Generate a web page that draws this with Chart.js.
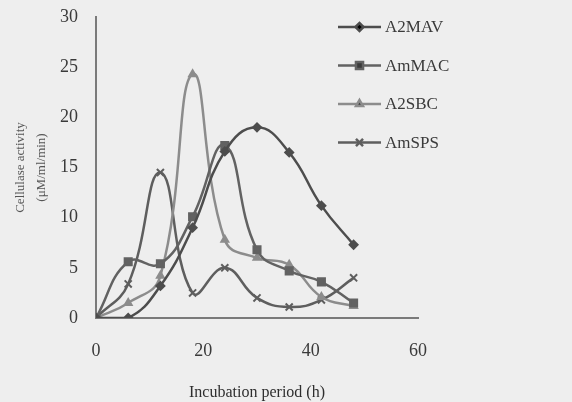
<!DOCTYPE html>
<html>
<head>
<meta charset="utf-8">
<script src="https://cdn.jsdelivr.net/npm/chart.js@4/dist/chart.umd.min.js"></script>
<style>
  html, body { margin: 0; padding: 0; background: #eeeeee; }
  #wrap { width: 572px; height: 402px; }
</style>
</head>
<body>
<div id="wrap"><canvas id="chart" width="572" height="402"></canvas></div>
<script>
// sampling times (h)
const hours = [0, 6, 12, 18, 24, 30, 36, 42, 48];

// activity values
const a2mav = [0, 0, 3.2, 9, 16.6, 19, 16.5, 11.2, 7.3];
const ammac = [0, 5.6, 5.4, 10.1, 17.2, 6.8, 4.7, 3.6, 1.5];
const a2sbc = [0, 1.5, 4.2, 24.3, 7.8, 6.0, 5.3, 2.1, 1.2];
const amsps = [0, 3.4, 14.5, 2.5, 5.0, 2.0, 1.1, 1.8, 4.0];

const xTicks = [0, 20, 40, 60];
const yTicks = [0, 5, 10, 15, 20, 25, 30];

const seriesNames = ['A2MAV', 'AmMAC', 'A2SBC', 'AmSPS'];
const seriesData = [a2mav, ammac, a2sbc, amsps];
const seriesColors = ['#4d4d4d', '#626262', '#8c8c8c', '#5e5e5e'];
const seriesMarkers = ['rectRot', 'rect', 'triangle', 'crossRot'];
const markerSizes = [4, 5, 4, 5];

const serif = "'Liberation Serif', 'DejaVu Serif', serif";

// legend drawn in the upper right, like the scanned figure
const sideLegend = {
  id: 'sideLegend',
  afterDraw(chart) {
    const ctx = chart.ctx;
    ctx.save();
    chart.data.datasets.forEach((ds, i) => {
      const y = 27 + i * 38.5;
      const x0 = 338, x1 = 381;
      ctx.strokeStyle = ds.borderColor;
      ctx.lineWidth = 2.5;
      ctx.beginPath();
      ctx.moveTo(x0, y);
      ctx.lineTo(x1, y);
      ctx.stroke();
      Chart.helpers.drawPoint(ctx, {
        pointStyle: ds.pointStyle,
        radius: ds.pointRadius,
        borderWidth: 2
      }, (x0 + x1) / 2, y);
      ctx.fillStyle = '#3a3a3a';
      ctx.font = '17px ' + serif;
      ctx.textBaseline = 'middle';
      ctx.textAlign = 'left';
      ctx.fillText(ds.label, 385, y + 1);
    });
    ctx.restore();
  }
};

new Chart(document.getElementById('chart'), {
  type: 'line',
  data: {
    datasets: seriesNames.map((name, i) => ({
      label: name,
      data: hours.map((h, j) => ({ x: h, y: seriesData[i][j] })),
      borderColor: seriesColors[i],
      backgroundColor: seriesColors[i],
      pointBorderColor: seriesColors[i],
      pointBackgroundColor: seriesColors[i],
      pointStyle: seriesMarkers[i],
      pointRadius: markerSizes[i],
      pointBorderWidth: 2,
      borderWidth: 2.5,
      tension: 0.45,
      fill: false
    }))
  },
  options: {
    responsive: false,
    animation: false,
    layout: { padding: { left: 0, right: 154, top: 17, bottom: 0 } },
    plugins: {
      legend: { display: false },
      tooltip: { enabled: false }
    },
    scales: {
      x: {
        type: 'linear',
        min: 0,
        max: 60,
        afterBuildTicks: s => { s.ticks = xTicks.map(v => ({ value: v })); },
        grid: { display: false, drawTicks: false },
        border: { display: true, color: '#7a7a7a', width: 2 },
        ticks: { color: '#3a3a3a', font: { family: serif, size: 18 }, padding: 22, maxRotation: 0 },
        title: {
          display: true,
          text: 'Incubation period (h)',
          color: '#2e2e2e',
          font: { family: serif, size: 16 },
          padding: { top: 14, bottom: 0 }
        },
        afterFit: s => { s.height = 84; }
      },
      y: {
        min: 0,
        max: 30,
        afterBuildTicks: s => { s.ticks = yTicks.map(v => ({ value: v })); },
        grid: { display: false, drawTicks: false },
        border: { display: true, color: '#7a7a7a', width: 2 },
        ticks: { color: '#3a3a3a', font: { family: serif, size: 18 }, padding: 18 },
        title: {
          display: true,
          text: ['Cellulase activity', '(μM/ml/min)'],
          color: '#555555',
          font: { family: serif, size: 13, lineHeight: 1.6 },
          padding: { top: 10, bottom: 0 }
        },
        afterFit: s => {
          s.width = 96;
          s.paddingTop = 0;
          s.paddingBottom = 0;
        }
      }
    }
  },
  plugins: [sideLegend]
});
</script>
</body>
</html>
